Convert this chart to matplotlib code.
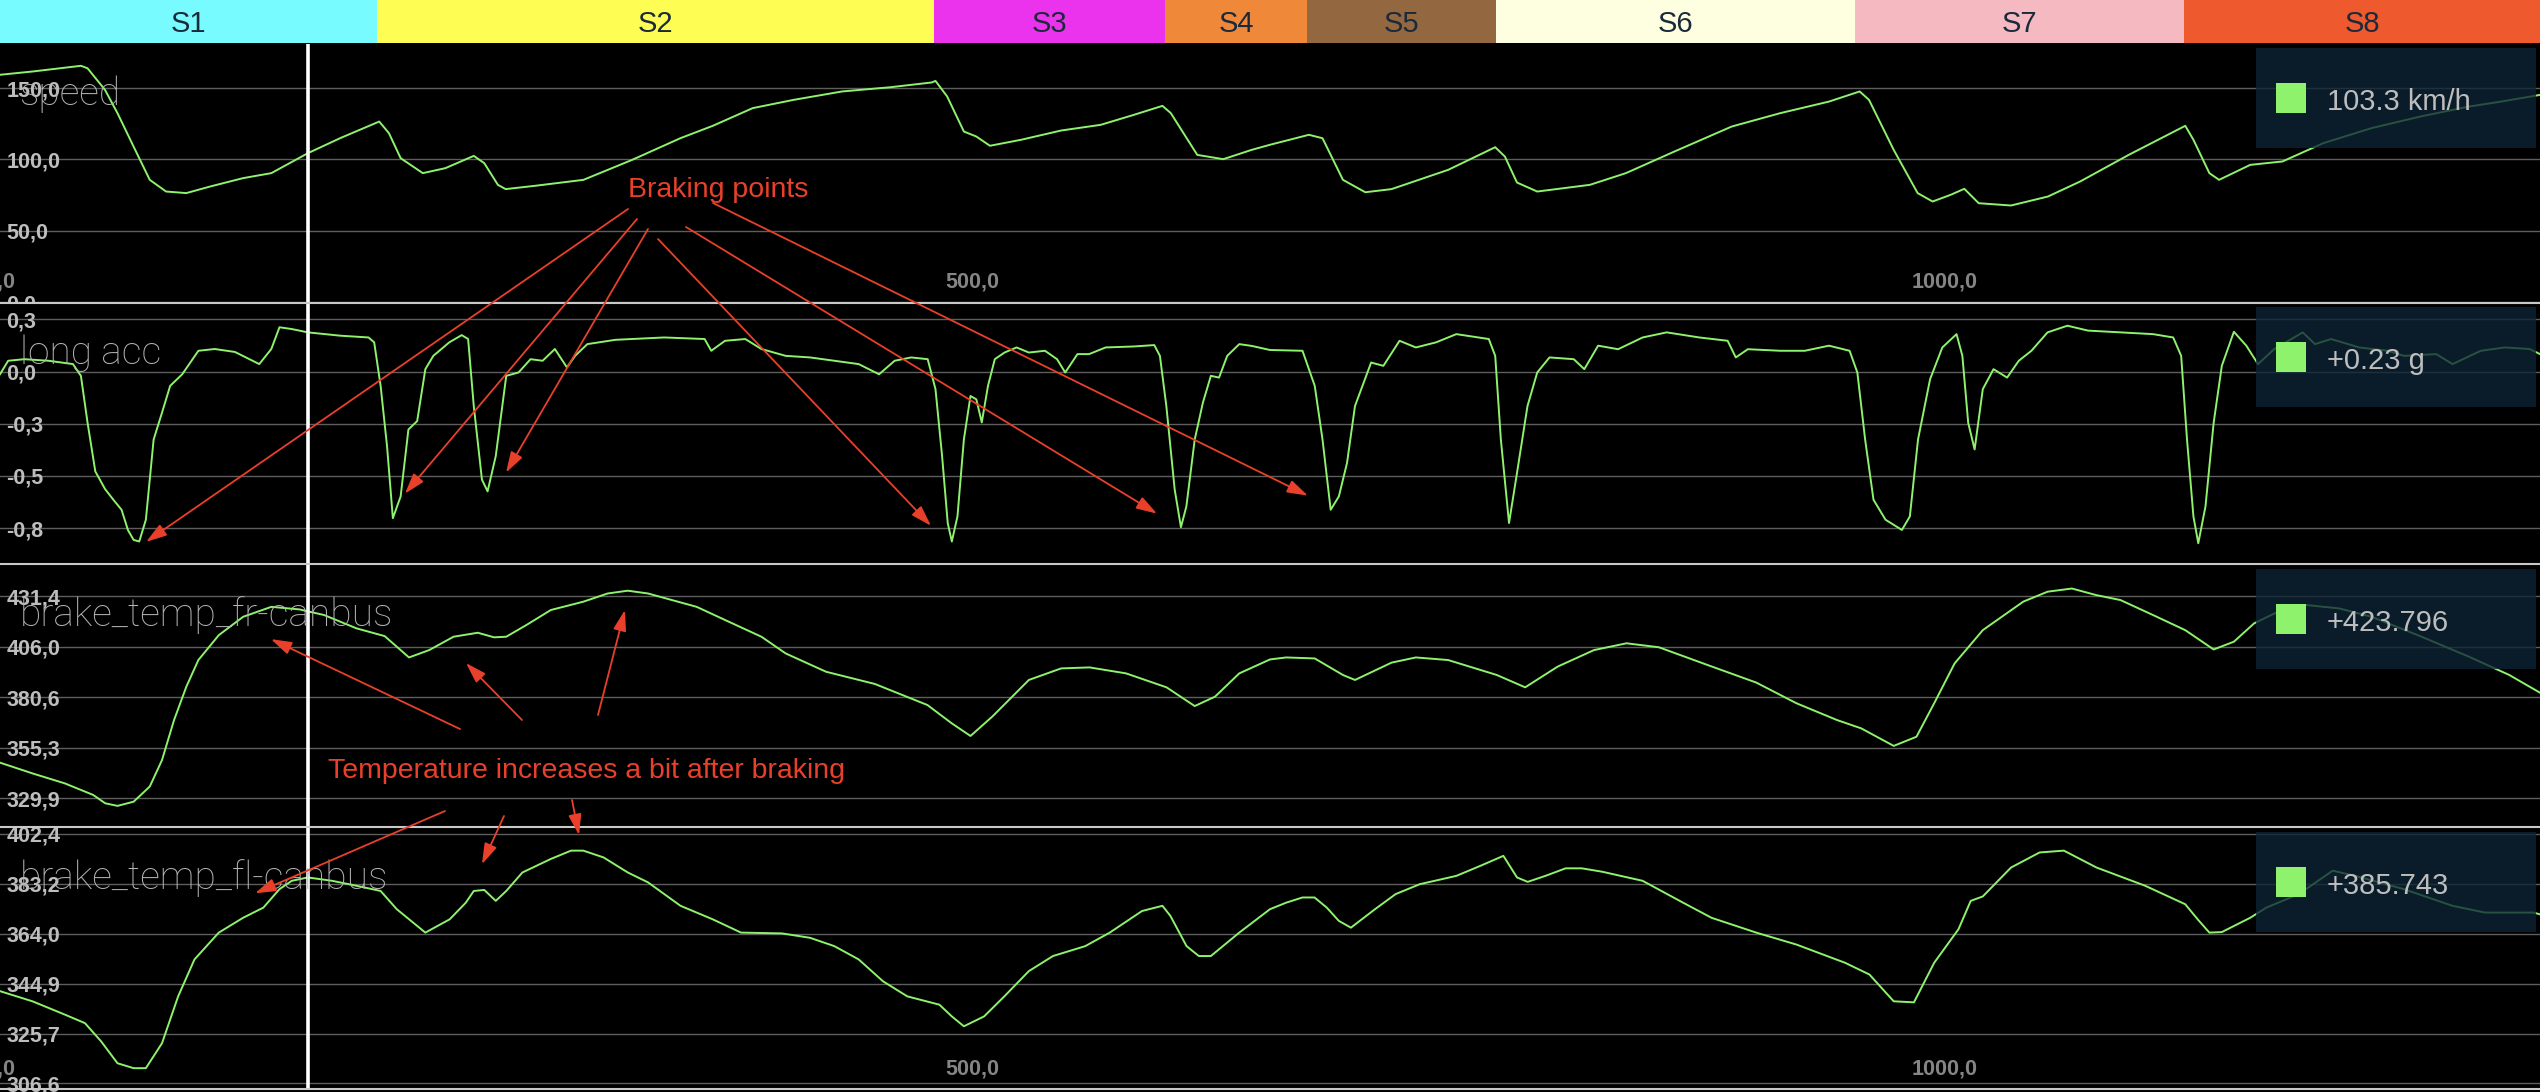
import matplotlib
matplotlib.use("Agg")
import matplotlib.pyplot as plt
from matplotlib.patches import Rectangle

W, H = 2540, 1092
X_MAX = 1306          # distance shown across the full width (m)
CURSOR = 158.4        # cursor position (m)

# ---- data ----
sector_names = ["S1", "S2", "S3", "S4", "S5", "S6", "S7", "S8"]
sector_edges = [0, 194, 480, 599, 672, 769, 954, 1123, 1306]
sector_colors = ["#77FBFE", "#FEFD54", "#EB33EE", "#F0883A", "#936840",
                 "#FEFEE0", "#F5B9C1", "#EE5A2D"]

speed_x = [0, 16.7, 41.6, 45, 54, 60.4, 68.7, 77, 85.4, 95.8,
           108, 125, 139.5, 158.3, 175, 195, 200, 206, 217.4, 229,
           243.6, 249, 256, 260, 275, 300, 325, 350, 366.5, 387,
           408, 433, 458, 479, 481, 487, 495.6, 502, 509, 525,
           545.6, 566, 583, 597.7, 602, 615.6, 629, 643.5, 653,
           673, 680, 690.5, 702, 715.5, 744.6, 768.8, 773.8, 780, 790.4,
           817.5, 836, 861, 890.4, 915.4, 940.4, 956.2, 961, 973.7, 986,
           993.7, 1003, 1010, 1017.4, 1034, 1053, 1069.5, 1094.5, 1123.6, 1127.8,
           1136, 1141, 1157, 1173.6, 1194.5, 1219.4, 1244.4, 1269.4, 1286, 1306]
speed_v = [159.4, 161.7, 165.7, 164, 148.8, 132.5, 109, 85.7, 77.5, 76.4,
           81, 86.9, 90.4, 104.4, 115, 126.6, 118.4, 100.9, 90.4, 93.9,
           102.5, 97.4, 82.2, 79.2, 81.5, 85.7, 99.7, 115, 123.6, 136,
           141.8, 147.7, 150.7, 154, 155.1, 144.2, 119.6, 116.1, 109.6, 113.8,
           120.3, 124.3, 131.3, 137.6, 132.5, 103.2, 100.2, 106.7, 110.3,
           117.3, 114.9, 85.7, 77, 79.2, 92.7, 108.6, 102, 83.8, 77.5,
           82.2, 90.4, 105.6, 123.1, 132.5, 140.6, 147.7, 141.8, 106.7, 76.4,
           70.5, 75.2, 79.4, 69.3, 67.7, 74, 84.5, 103.2, 123.6, 113.8,
           90.4, 85.7, 96.2, 98.6, 111.4, 122, 130.1, 137.1, 140.6, 145.3]

acc_x = [0, 4.2, 12.5, 25, 37.5, 41.6, 45, 49, 54, 58.3,
         62.5, 65.8, 68.7, 71.6, 75, 79, 83.3, 87.5, 93.7, 102,
         110.4, 120.8, 133.3, 139.5, 143.7, 150, 158.3, 175, 189.5, 192.4,
         195.7, 199, 202, 206, 210, 214.5, 218.7, 222.8, 231, 237.4,
         240.7, 243.6, 247.8, 250.7, 254.9, 260.3, 266.6, 272.8, 279, 285.3,
         291.5, 295.7, 302, 316.5, 341.5, 362.3, 365.7, 372.8, 383.2, 391.5,
         404, 416.5, 429, 441.5, 452, 460, 468.5, 477, 481, 484.4,
         487.3, 489.4, 492.3, 495.6, 499, 502, 504.8, 508, 511.5, 516.5,
         522.7, 529, 537.3, 543.5, 547.7, 554, 560, 568.5, 583, 593.5,
         596.4, 599.7, 604, 607.2, 610, 614.3, 618.5, 622.6, 626.8, 631,
         637.2, 643.5,
         653, 669.7, 676, 680, 684.2, 688.4, 692.6, 696.7, 705, 711.3,
         719.6, 728, 738.4, 748.8, 765.5, 768.8, 771.7, 775.9, 780, 785.4,
         790.4, 796.7, 809.2, 814.6, 821.7, 832, 844.6, 857, 873.7, 888.3,
         892.5, 898.7, 915.4, 928, 940.4, 951, 955, 959, 963.3, 969.5,
         977.9, 982, 986.2, 992.4, 998.7, 1006, 1009, 1012, 1015.3, 1019.5,
         1025, 1032, 1038, 1044.5, 1052.8, 1063, 1073.6, 1090, 1107, 1117.4,
         1121.5, 1124.5, 1127.8, 1130.3, 1134, 1138.2, 1142.4, 1148.6, 1155, 1161,
         1169.4, 1184, 1190.3, 1198.6, 1213, 1227.8, 1236, 1252.7, 1261, 1275.6,
         1288, 1300.6, 1306]
acc_g = [-0.014, 0.055, 0.063, 0.055, 0.038, -0.022, -0.26, -0.51, -0.60, -0.655,
         -0.706, -0.81, -0.86, -0.868, -0.757, -0.347, -0.21, -0.073, -0.014, 0.106,
         0.115, 0.10, 0.038, 0.115, 0.226, 0.217, 0.20, 0.183, 0.174, 0.149,
         -0.073, -0.381, -0.749, -0.638, -0.296, -0.253, 0.012, 0.08, 0.149, 0.186,
         0.166, -0.176, -0.552, -0.612, -0.432, -0.022, -0.005, 0.063, 0.055, 0.115,
         0.021, 0.08, 0.14, 0.162, 0.174, 0.166, 0.106, 0.157, 0.166, 0.115,
         0.08, 0.072, 0.055, 0.038, -0.014, 0.055, 0.072, 0.063, -0.09, -0.432,
         -0.774, -0.868, -0.74, -0.347, -0.125, -0.142, -0.26, -0.073, 0.063, 0.097,
         0.123, 0.097, 0.106, 0.063, -0.005, 0.089, 0.089, 0.123, 0.128, 0.135,
         0.08, -0.176, -0.603, -0.795, -0.689, -0.347, -0.159, -0.022, -0.031, 0.08,
         0.14, 0.131,
         0.11, 0.106, -0.073, -0.347, -0.706, -0.638, -0.467, -0.176, 0.046, 0.029,
         0.157, 0.123, 0.149, 0.191, 0.166, 0.08, -0.347, -0.774, -0.518, -0.176,
         -0.005, 0.072, 0.063, 0.012, 0.132, 0.114, 0.174, 0.20, 0.174, 0.157,
         0.072, 0.114, 0.106, 0.106, 0.132, 0.106, -0.005, -0.347, -0.655, -0.757,
         -0.809, -0.74, -0.347, -0.039, 0.123, 0.191, 0.08, -0.262, -0.398, -0.09,
         0.012, -0.031, 0.055, 0.106, 0.20, 0.234, 0.209, 0.20, 0.191, 0.174,
         0.08, -0.347, -0.74, -0.877, -0.689, -0.262, 0.029, 0.203, 0.132, 0.038,
         0.115, 0.20, 0.14, 0.166, 0.123, 0.106, 0.08, 0.089, 0.038, 0.106,
         0.123, 0.115, 0.089]

fr_x = [0, 16.7, 33.3, 47.9, 54.1, 60.4, 68.7, 77, 83.3, 89.5,
        95.8, 102, 112.5, 125, 139.5, 154, 166.6, 183.3, 197.8, 210.3,
        220.7, 233.2, 245.7, 254, 260.3, 270.7, 283.2, 300, 312.4, 322.8,
        333.2, 358.2, 374.8, 391.5, 404, 424.8, 449.8, 476.9, 489.4, 499,
        510.2, 529, 545.6, 560.2, 579, 599.8, 614.3, 624.7, 637.2,
        653, 661.3, 676, 690.5, 696.7, 715.5, 728, 744.6, 769.6, 784.2,
        800.9, 819.6, 836.3, 853, 878, 903, 923.7, 944.5, 957, 973.7,
        985.4, 994.5, 1005, 1019.5, 1040.3, 1052.8, 1065.3, 1077.8, 1090.3, 1107,
        1123.6, 1138.2, 1148.6, 1159, 1169.5, 1186, 1202.8, 1219.4, 1244.4, 1269.4,
        1290.2, 1306]
fr_t = [347.8, 342.4, 337.4, 331.6, 327.4, 326.1, 328.2, 335.8, 349.1, 369.2,
        385.9, 399.3, 411.8, 421, 426, 424.7, 421.9, 415.2, 411.3, 400.6,
        404.3, 411, 413, 410.7, 411, 416.9, 424.4, 428.6, 432.7, 434.1,
        432.7, 426, 418.5, 411, 402.6, 393.4, 387.3, 376.7, 367.5, 361.2,
        370.9, 389.3, 395.1, 395.6, 392.6, 385.6, 376.2, 380.9, 392.6,
        399.6, 400.6, 400.1, 391.8, 389.3, 398, 400.6, 399.3, 391.8, 385.6,
        396, 404.3, 407.7, 405.7, 396.8, 388, 377.6, 369.2, 365, 356.2,
        360.8, 377.6, 397.6, 414.3, 428.6, 433.6, 435.2, 431.9, 429.4, 421.9,
        414.3, 404.6, 408.5, 417.7, 422.7, 426.9, 425.2, 421, 411.3, 401,
        391.8, 382.9]

fl_x = [0, 16.7, 33.3, 43.7, 52, 60.4, 68.7, 75, 83.3, 91.6,
        100, 112.5, 125, 135.4, 143.7, 150, 158.3, 170.8, 183.3, 195.7,
        204, 218.7, 231.2, 239.5, 243.6, 249, 254.9, 260.3, 268.6, 283.2,
        293.6, 299.9, 310.3, 322.8, 333.2, 349.9, 366.5, 381, 402, 416.5,
        429, 441.5, 454, 466.5, 483, 489.4, 495.6, 506, 516.4, 529,
        541.4, 558, 570.6, 587.2, 597.7, 601.8, 610.1, 616.4, 622.6, 637.2,
        653, 661.3, 669.7, 675.9, 682.2, 688.4, 694.6, 707, 717.6, 730,
        748.8, 761.3, 773, 780, 785.5, 794.6, 805, 813.3, 823.8, 844.6,
        865.4, 880, 903, 923.7, 948.7, 961.2, 973.7, 984.1, 994.5, 1007,
        1013.3, 1019.5, 1034, 1048.7, 1061.2, 1078, 1103, 1123.6, 1130, 1136,
        1142.4, 1157, 1165.3, 1182, 1199.4, 1211, 1236, 1261, 1277.7, 1302.7,
        1306]
fl_t = [342, 338.1, 333, 329.7, 322.7, 314.3, 312.4, 312.4, 322, 340,
        354.2, 364.5, 370.2, 374.1, 381.2, 384.4, 385.7, 384.4, 382.5, 380.5,
        373.5, 364.5, 369.6, 376, 380.5, 380.9, 376.7, 380.5, 387.6, 392.8,
        396, 396, 393.4, 387.6, 383.8, 374.8, 369.6, 364.5, 364.2, 362.5,
        359.3, 354.2, 345.8, 340, 336.8, 332.3, 328.5, 332.3, 340, 349.7,
        355.5, 359.3, 364.5, 372.8, 374.8, 370.9, 359.3, 355.5, 355.5, 364.5,
        373.5, 376, 378, 378, 374.1, 369, 366.4, 373.5, 379.3, 383.1,
        386.3, 390.2, 394, 385.7, 384, 386.3, 389.2, 389.2, 387.9, 384.4,
        376, 370.2, 364.5, 359.9, 352.9, 348.4, 338.1, 337.7, 352.9, 365.8,
        376.7, 378.4, 389.5, 395.3, 396, 389.5, 382.5, 375.4, 369.6, 364.5,
        364.7, 370.2, 374.1, 379.3, 388.3, 386.3, 381.2, 374.8, 372.2, 372.2,
        371.5]

titles = ["speed", "long acc", "brake_temp_fr-canbus", "brake_temp_fl-canbus"]
readouts = ["103.3 km/h", "+0.23 g", "+423.796", "+385.743"]
speed_ticks = [0, 50, 100, 150]
acc_ticks = [0.8 / 3, 0.0, -0.8 / 3, -1.6 / 3, -0.8]
fr_ticks = [329.9, 355.3, 380.6, 406.0, 431.4]
fl_ticks = [306.6, 325.7, 344.9, 364.0, 383.2, 402.4]
dist_ticks = [0, 500, 1000]

# ---- styling ----
GREEN = "#8EF26C"
RED = "#E8402A"
BOX = "#0D2436"
plt.rcParams["font.family"] = ["Liberation Sans", "DejaVu Sans"]


def comma(v):
    return f"{v:.1f}".replace(".", ",").replace("-0,0", "0,0")


def frame(top, bottom):
    return [0, 1 - bottom / H, 1, (bottom - top) / H]


fig = plt.figure(figsize=(W / 100, H / 100), dpi=100, facecolor="black")

# sector strip
ax_s = fig.add_axes(frame(0, 43))
for i, name in enumerate(sector_names):
    ax_s.axvspan(sector_edges[i], sector_edges[i + 1], color=sector_colors[i], lw=0)
    ax_s.text((sector_edges[i] + sector_edges[i + 1]) / 2, 0.45, name,
              ha="center", va="center", fontsize=21, color="#1B2A3A")
ax_s.set_xlim(0, X_MAX)
ax_s.set_ylim(0, 1)
ax_s.axis("off")

panels = [
    dict(x=speed_x, y=speed_v, lim=(0, 181), ticks=speed_ticks, px=(44, 302), xt=True),
    dict(x=acc_x, y=acc_g, lim=(-0.983, 0.350), ticks=acc_ticks, px=(303, 564), xt=False),
    dict(x=fr_x, y=fr_t, lim=(315.5, 447.0), ticks=fr_ticks, px=(565, 827), xt=False),
    dict(x=fl_x, y=fl_t, lim=(304.4, 404.7), ticks=fl_ticks, px=(828, 1089), xt=True),
]

axes = []
for p, title in zip(panels, titles):
    top, bottom = p["px"]
    ax = fig.add_axes(frame(top, bottom), facecolor="black")
    ax.plot(p["x"], p["y"], color=GREEN, lw=1.4, zorder=3)
    ax.set_xlim(0, X_MAX)
    ax.set_ylim(*p["lim"])
    ax.set_yticks(p["ticks"], labels=[comma(t) for t in p["ticks"]], ha="left",
                  fontweight="bold", color="#BDBDBD", fontsize=15.5)
    ax.tick_params(axis="y", length=0, pad=-4.5)
    ax.grid(axis="y", color="#5E5E5E", lw=1)
    ax.set_axisbelow(True)
    if p["xt"]:
        ax.set_xticks(dist_ticks, labels=[comma(t) for t in dist_ticks],
                      fontweight="bold", color="#858585", fontsize=15.5)
        ax.tick_params(axis="x", length=0, pad=-22)
        ax.grid(axis="x", visible=False)
    else:
        ax.set_xticks([])
    for s in ax.spines.values():
        s.set_visible(False)
    ax.axvline(CURSOR, color="white", lw=2.6, zorder=4)
    ax.text(20 / W, 1 - 61 / (bottom - top), title, transform=ax.transAxes,
            va="baseline", ha="left", fontsize=28, color="#B4B4B4",
            family=["Roboto", "DejaVu Sans"], fontweight="light", zorder=5)
    axes.append(ax)

ax_speed, ax_acc, ax_fr, ax_fl = axes

# overlay in pixel units for separators, readout boxes and notes
ov = fig.add_axes([0, 0, 1, 1])
ov.set_xlim(0, W)
ov.set_ylim(H, 0)
ov.axis("off")

for y in [302.5, 564, 827, 1089]:
    ov.axhline(y, color="#C8C8C8", lw=1.5)

for ax, text, (top, _) in zip(axes, readouts, [p["px"] for p in panels]):
    bt = top + 4
    ov.add_patch(Rectangle((2256, bt), 280, 100, facecolor=BOX, alpha=0.78, lw=0, zorder=6))
    ov.add_patch(Rectangle((2276, bt + 35), 30, 30, facecolor=GREEN, lw=0, zorder=7))
    ov.text(2327, bt + 62, text, va="baseline", ha="left", fontsize=21,
            color="#BDBDBD", zorder=7)

arrow = dict(arrowstyle="-|>,head_length=0.7,head_width=0.22", color=RED, lw=1.3,
             shrinkA=0, shrinkB=0, mutation_scale=18)

ov.text(628, 197, "Braking points", va="baseline", ha="left", fontsize=20.5, color=RED)
brake_starts = [(628, 209), (637, 219), (648, 229), (658, 239), (686, 227), (713, 203)]
brake_targets = [(75.1, -0.870), (208.2, -0.624), (260.2, -0.516),
                 (478.7, -0.788), (594.9, -0.726), (672.5, -0.634)]
for (sx, sy), xy in zip(brake_starts, brake_targets):
    ov.annotate("", xy=xy, xycoords=ax_acc.transData, xytext=(sx, sy),
                textcoords="data", arrowprops=arrow, annotation_clip=False)

ov.text(328, 778, "Temperature increases a bit after braking", va="baseline",
        ha="left", fontsize=20.5, color=RED)
fr_starts = [(460, 729), (522, 720), (598, 715)]
fr_targets = [(139.3, 409.8), (239.6, 397.8), (321.3, 424.4)]
fl_starts = [(445, 811), (504, 816), (572, 800)]
fl_targets = [(131.1, 379.6), (247.8, 390.8), (297.7, 402.0)]
for (sx, sy), xy in zip(fr_starts, fr_targets):
    ov.annotate("", xy=xy, xycoords=ax_fr.transData, xytext=(sx, sy),
                textcoords="data", arrowprops=arrow, annotation_clip=False)
for (sx, sy), xy in zip(fl_starts, fl_targets):
    ov.annotate("", xy=xy, xycoords=ax_fl.transData, xytext=(sx, sy),
                textcoords="data", arrowprops=arrow, annotation_clip=False)

fig.savefig("out.png", dpi=100, facecolor="black")
